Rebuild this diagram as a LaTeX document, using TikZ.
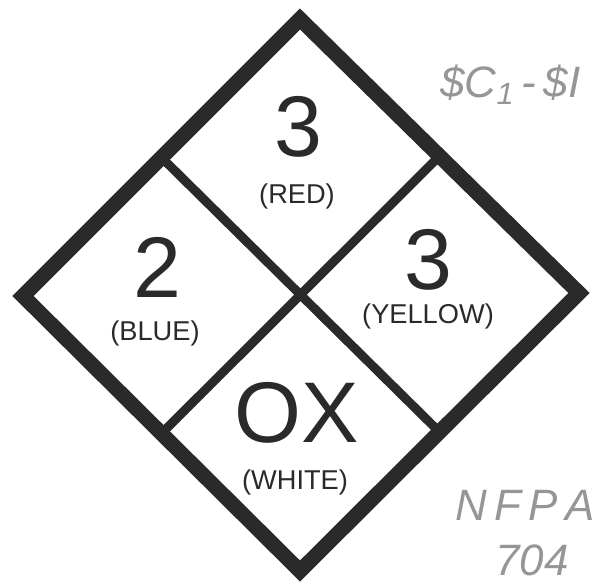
\documentclass[tikz,border=0pt]{standalone}
\usepackage{fontspec}
\setmainfont{Liberation Sans}
\usetikzlibrary{calc}
\definecolor{ink}{RGB}{42,42,42}
\definecolor{pencil}{RGB}{150,150,150}

\begin{document}
\begin{tikzpicture}[x=0.02cm,y=-0.02cm,
    rim/.style={draw=ink,line width=15*0.567pt,line join=miter},
    divider/.style={draw=ink,line width=9*0.567pt},
    rating/.style={text=ink,inner sep=0pt,font=\fontsize{49}{51}\selectfont},
    hue/.style={text=ink,inner sep=0pt,font=\fontsize{15.5}{17}\selectfont},
    scrawl/.style={text=pencil,inner sep=0pt,font=\fontsize{25}{27}\selectfont\itshape}]
  \useasboundingbox (0,0) rectangle (597,583);
  % corners of the placard
  \coordinate (top)    at (300,19);
  \coordinate (left)   at (23,296);
  \coordinate (right)  at (579,293);
  \coordinate (bottom) at (300,571);
  \draw[rim] (top) -- (right) -- (bottom) -- (left) -- cycle;
  \draw[divider] ($(top)!0.5!(left)$) -- ($(right)!0.5!(bottom)$);
  \draw[divider] ($(top)!0.5!(right)$) -- ($(left)!0.5!(bottom)$);
  % ratings
  \node[rating] (health)  at (157,267) {2};
  \node[rating] (fire)    at (298,127) {3};
  \node[rating] (react)   at (428,260) {3};
  \node[rating] (special) at (297,413) {OX};
  \node[hue] (redtag)    at (297,196) {(RED)};
  \node[hue] (bluetag)   at (155,333) {(BLUE)};
  \node[hue] (yellowtag) at (428,316) {(YELLOW)};
  \node[hue] (whitetag)  at (295,482) {(WHITE)};
  % pencil notes
  \node[scrawl,anchor=west] (costnote) at (440,85) {\$C\textsubscript{1}\,-\,\$I};
  \node[scrawl,anchor=west] (codenote) at (455,505) {N\,F\,P\,A};
  \node[scrawl,anchor=west] (codenum)  at (495,560) {704};
\end{tikzpicture}
\end{document}
